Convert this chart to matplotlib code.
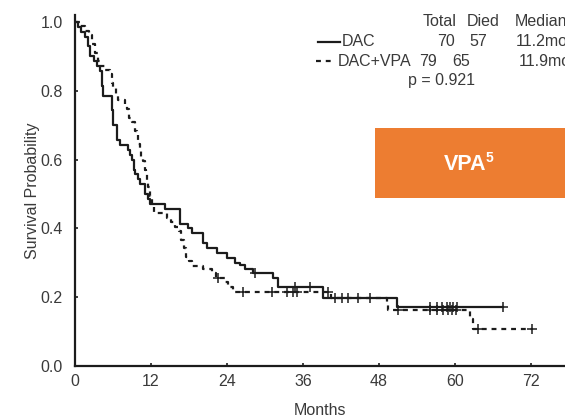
import numpy as np
import matplotlib
matplotlib.use('agg')
import matplotlib.pyplot as plt
from matplotlib.patches import Rectangle

plt.rcParams['font.family'] = ['Liberation Sans', 'DejaVu Sans']

# Kaplan-Meier steps: time of event (months) and survival after it
dac_t = [0.0, 0.5, 1.0, 1.6, 2.0, 2.4, 3.0, 3.5, 3.9, 4.2, 4.4, 5.8, 6.0, 6.6, 7.1,
         8.4, 8.7, 9.0, 9.3, 9.5, 10.0, 10.3, 11.1, 11.5, 11.9, 14.2, 16.6, 17.9,
         18.5, 20.2, 20.8, 22.4, 24.0, 25.3, 26.1, 26.9, 28.1, 31.3, 32.1, 39.2, 50.9]
dac_s = [1.000, 0.986, 0.971, 0.957, 0.929, 0.900, 0.886, 0.871, 0.857, 0.814, 0.786,
         0.743, 0.700, 0.657, 0.643, 0.629, 0.614, 0.600, 0.571, 0.557, 0.543, 0.529,
         0.500, 0.486, 0.471, 0.457, 0.414, 0.400, 0.386, 0.357, 0.343, 0.329, 0.314,
         0.300, 0.293, 0.282, 0.271, 0.257, 0.229, 0.198, 0.172]
dac_end = 67.6
dac_cens = [28.4, 34.8, 37.1, 41.1, 42.2, 43.1, 44.7, 46.6, 56.1, 57.2, 58.0, 58.8,
            59.2, 59.7, 60.3, 67.6]

vpa_t = [0.0, 0.8, 1.6, 2.2, 2.7, 3.2, 3.6, 3.9, 4.8, 5.5, 5.8, 6.0, 6.5, 6.8, 7.9,
         8.2, 8.6, 9.0, 9.5, 9.8, 10.0, 10.3, 10.5, 10.7, 11.0, 11.2, 11.4, 11.6, 11.9,
         12.2, 12.5, 14.5, 15.2, 15.8, 16.4, 16.7, 17.2, 17.6, 18.0, 18.5, 20.2, 21.6,
         22.2, 23.7, 24.2, 25.0, 40.5, 49.3, 49.5, 62.4, 62.8]
vpa_s = [1.000, 0.987, 0.975, 0.962, 0.937, 0.911, 0.886, 0.873, 0.861, 0.848, 0.823,
         0.810, 0.785, 0.772, 0.759, 0.747, 0.722, 0.709, 0.684, 0.671, 0.646, 0.633,
         0.608, 0.595, 0.570, 0.557, 0.532, 0.519, 0.494, 0.462, 0.445, 0.430, 0.418,
         0.405, 0.392, 0.367, 0.342, 0.317, 0.304, 0.291, 0.282, 0.270, 0.257, 0.244,
         0.230, 0.215, 0.198, 0.181, 0.163, 0.136, 0.109]
vpa_end = 72.2
vpa_cens = [22.6, 26.5, 31.1, 33.5, 34.4, 35.1, 40.0, 51.0, 56.1, 57.2, 58.1, 58.9,
            59.6, 60.2, 63.7, 72.2]

x_ticks = [0, 12, 24, 36, 48, 60, 72]
y_ticks = [0.0, 0.2, 0.4, 0.6, 0.8, 1.0]

headers = ["Total", "Died", "Median"]
rows = [("DAC", 70, 57, "11.2mo"), ("DAC+VPA", 79, 65, "11.9mo")]
p_text = "p = 0.921"

ink = '#1c1c1c'
txt = '#3a3a3a'
fs = 11.5
dashes = (0, (2.2, 2.2))


def level_at(t, s, x):
    idx = np.searchsorted(t, x, side='right') - 1
    return np.asarray(s)[idx]


def px(x, y):
    return x / 565, 1 - y / 417


fig = plt.figure(figsize=(5.65, 4.17), dpi=100)
ax = fig.add_axes([75 / 565, 1 - 366 / 417, 1 - 75 / 565, (366 - 15) / 417])

ax.step(dac_t + [dac_end], dac_s + [dac_s[-1]], where='post', color=ink, lw=1.6)
ax.step(vpa_t + [vpa_end], vpa_s + [vpa_s[-1]], where='post', color=ink, lw=1.6,
        linestyle=dashes)
ax.plot(dac_cens, level_at(dac_t, dac_s, dac_cens), '+', color=ink, ms=7, mew=1.1)
ax.plot(vpa_cens, level_at(vpa_t, vpa_s, vpa_cens), '+', color=ink, ms=7, mew=1.1)

ax.set_xlim(0, (565 - 75) / 6.33)
ax.set_ylim(0, (366 - 15) / 344)
ax.set_xticks(x_ticks)
ax.set_yticks(y_ticks)
ax.set_yticklabels([f"{v:.1f}" for v in y_ticks])
ax.tick_params(direction='in', length=2.5, width=1.2, colors=ink, labelcolor=txt,
               labelsize=fs)
ax.tick_params(axis='x', pad=6)
ax.tick_params(axis='y', pad=9)
for side in ['top', 'right']:
    ax.spines[side].set_visible(False)
for side in ['left', 'bottom']:
    ax.spines[side].set_linewidth(1.6)
    ax.spines[side].set_color(ink)

ax.set_xlabel("Months", fontsize=fs, color=txt, labelpad=10)
ax.set_ylabel("Survival Probability", fontsize=fs, color=txt, labelpad=0)

# summary table in the upper right (runs off the right edge)
fig.text(*px(457, 22), headers[0], ha='right', va='center', fontsize=fs, color=txt)
fig.text(*px(500, 22), headers[1], ha='right', va='center', fontsize=fs, color=txt)
fig.text(*px(515, 22), headers[2], ha='left', va='center', fontsize=fs, color=txt)

row_y = [42, 61]
line_x = [(318, 340), (316, 334)]
name_x = [342, 338]
total_x = [455, 437]
died_x = [487, 470]
med_x = [516, 519]
styles = ['-', dashes]
for i, (name, total, died, med) in enumerate(rows):
    y = 1 - row_y[i] / 417
    fig.add_artist(plt.Line2D([line_x[i][0] / 565, line_x[i][1] / 565], [y, y],
                              color=ink, lw=1.6, linestyle=styles[i]))
    fig.text(name_x[i] / 565, y, name, ha='left', va='center', fontsize=fs, color=txt)
    fig.text(total_x[i] / 565, y, str(total), ha='right', va='center', fontsize=fs,
             color=txt)
    fig.text(died_x[i] / 565, y, str(died), ha='right', va='center', fontsize=fs,
             color=txt)
    fig.text(med_x[i] / 565, y, med, ha='left', va='center', fontsize=fs, color=txt)
fig.text(*px(442, 81), p_text, ha='center', va='center', fontsize=fs, color=txt)

# orange label box
fig.add_artist(Rectangle(px(375, 198), (565 - 375) / 565, 70 / 417,
                         facecolor='#ED7D31', edgecolor='none'))
fig.text(*px(465, 165), "VPA", ha='center', va='center', fontsize=15.5,
         fontweight='bold', color='white')
fig.text(*px(486, 158), "5", ha='left', va='center', fontsize=10,
         fontweight='bold', color='white')

fig.savefig('out.png', dpi=100)
